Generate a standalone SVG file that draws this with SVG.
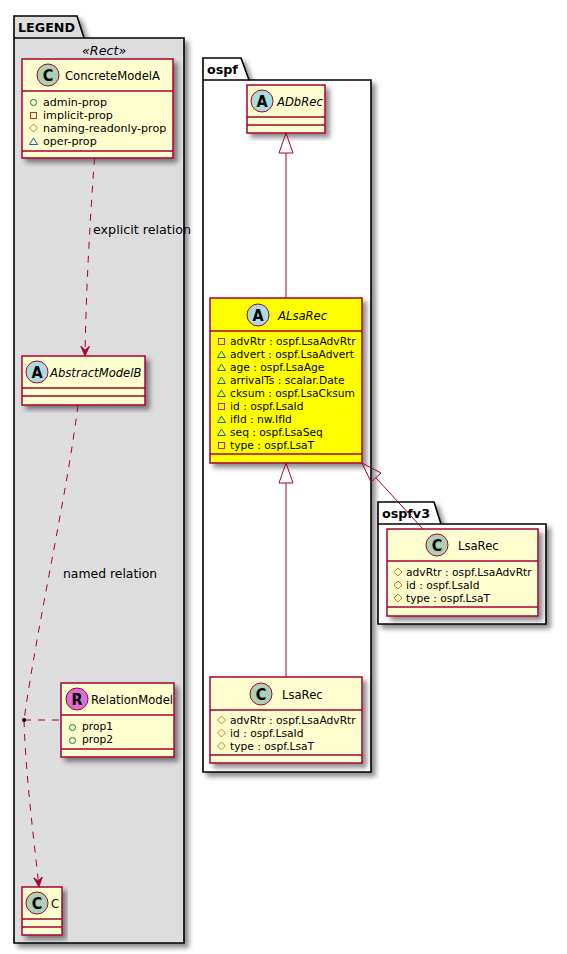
<svg xmlns="http://www.w3.org/2000/svg" width="567" height="954" viewBox="0 0 567 954">
<style>
text{font-family:"DejaVu Sans","Liberation Sans",sans-serif;fill:#000}
.pkg{stroke:#000;stroke-width:1.6;filter:url(#sh)}
.box{stroke:#A80036;stroke-width:1.5;filter:url(#sh)}
.cls{fill:#FEFECE}
.yel{fill:#FFFF00}
.div{stroke:#A80036;stroke-width:1.5;fill:none}
.tab{font-size:12.700px;font-weight:bold}
.name{font-size:11.600px}
.it{font-style:italic}
.m{font-size:10.700px}
.m2{font-size:11.100px}
.lbl{font-size:12.700px}
.lbl2{font-size:12.400px}
.sp{stroke:#A80036;stroke-width:1;}
.let{font-family:"DejaVu Sans Condensed","DejaVu Sans",sans-serif;font-size:16px;font-weight:bold;text-anchor:middle}
.pub{fill:none;stroke:#038048}
.pri{fill:none;stroke:#C82930}
.pro{fill:none;stroke:#B38D22}
.pkgv{fill:none;stroke:#1963A0}
.ln{fill:none;stroke:#A80036;stroke-width:1}
.dash{stroke-dasharray:7 7}
</style>
<defs>
<filter id="sh" x="-10%" y="-10%" width="125%" height="125%"><feDropShadow dx="4" dy="4" stdDeviation="2.500" flood-color="#000" flood-opacity="0.45"/></filter>
<marker id="open" markerUnits="userSpaceOnUse" markerWidth="12" markerHeight="12" refX="10" refY="5" orient="auto" viewBox="0 0 12 10"><path d="M0 0.500L10 5L0 9.500L4 5Z" fill="#A80036" stroke="#A80036" stroke-width="0.800"/></marker>
</defs>

<g id="pkg-legend"><path class="pkg" fill="#DDDDDD" d="M14 38V16H77L84 38H184V943H14Z"/><path d="M14 38H84" stroke="#000" stroke-width="1.500"/><text class="tab" x="18" y="32">LEGEND</text><text class="lbl it" x="82" y="54.500">«Rect»</text></g>
<g id="pkg-ospf"><path class="pkg" fill="#FFFFFF" d="M203 80V58H241L249 80H371V772H203Z"/><path d="M203 80H249" stroke="#000" stroke-width="1.500"/><text class="tab" x="207" y="74">ospf</text></g>

<g id="ConcreteModelA"><rect class="box cls" x="22" y="59" width="151" height="99"/><path class="div" d="M22 91H173M22 151H173"/><circle class="sp" cx="48" cy="75" r="11" fill="#ADD1B2"/><text class="let" x="48" y="81">C</text><text class="name" x="65" y="80">ConcreteModelA</text>
<circle class="pub" cx="33.500" cy="102.500" r="3"/><text class="m2" x="43" y="106">admin-prop</text>
<rect class="pri" x="30.500" y="112.500" width="6" height="6"/><text class="m2" x="43" y="119">implicit-prop</text>
<path class="pro" d="M33.500 124L37.500 128L33.500 132L29.500 128Z"/><text class="m2" x="43" y="132">naming-readonly-prop</text>
<path class="pkgv" d="M33.500 138L37.500 144.500H29.500Z"/><text class="m2" x="43" y="145">oper-prop</text></g>

<g id="AbstractModelB"><rect class="box cls" x="22" y="356" width="123" height="49"/><path class="div" d="M22 388H145M22 396H145"/><circle class="sp" cx="37" cy="372" r="11" fill="#A9DCDF"/><text class="let" x="37" y="378">A</text><text class="name it" x="50" y="377">AbstractModelB</text></g>

<g id="RelationModel"><rect class="box cls" x="61" y="683" width="113" height="74"/><path class="div" d="M61 715H174M61 749H174"/><circle class="sp" cx="77" cy="699" r="11" fill="#DA70D6"/><text class="let" x="77" y="705">R</text><text class="name" x="91" y="704">RelationModel</text>
<circle class="pub" cx="72.500" cy="727.500" r="3"/><text class="m" x="82" y="730">prop1</text>
<circle class="pub" cx="72.500" cy="740.500" r="3"/><text class="m" x="82" y="743">prop2</text></g>

<g id="C"><rect class="box cls" x="22" y="887" width="40" height="48"/><path class="div" d="M22 919H62M22 927H62"/><circle class="sp" cx="37" cy="903" r="11" fill="#ADD1B2"/><text class="let" x="37" y="909">C</text><text class="name" x="51" y="908">C</text></g>

<g id="ADbRec"><rect class="box cls" x="247" y="85" width="78" height="48"/><path class="div" d="M247 117H325M247 125H325"/><circle class="sp" cx="262" cy="101" r="11" fill="#A9DCDF"/><text class="let" x="262" y="107">A</text><text class="name it" x="277" y="106">ADbRec</text></g>

<g id="ALsaRec"><rect class="box yel" x="210" y="298" width="152" height="165"/><path class="div" d="M210 331H362M210 454H362"/><circle class="sp" cx="258" cy="315" r="11" fill="#A9DCDF"/><text class="let" x="258" y="321">A</text><text class="name it" x="278" y="320">ALsaRec</text>
<rect class="pri" x="218.500" y="338.500" width="6" height="6"/><text class="m" x="230" y="345">advRtr : ospf.LsaAdvRtr</text>
<path class="pkgv" d="M221.500 351L225.500 357.500H217.500Z"/><text class="m" x="230" y="358">advert : ospf.LsaAdvert</text>
<path class="pkgv" d="M221.500 364L225.500 370.500H217.500Z"/><text class="m" x="230" y="371">age : ospf.LsaAge</text>
<path class="pkgv" d="M221.500 377L225.500 383.500H217.500Z"/><text class="m" x="230" y="384">arrivalTs : scalar.Date</text>
<path class="pkgv" d="M221.500 390L225.500 396.500H217.500Z"/><text class="m" x="230" y="397">cksum : ospf.LsaCksum</text>
<rect class="pri" x="218.500" y="403.500" width="6" height="6"/><text class="m" x="230" y="410">id : ospf.LsaId</text>
<path class="pkgv" d="M221.500 416L225.500 422.500H217.500Z"/><text class="m" x="230" y="423">ifId : nw.IfId</text>
<path class="pkgv" d="M221.500 429L225.500 435.500H217.500Z"/><text class="m" x="230" y="436">seq : ospf.LsaSeq</text>
<rect class="pri" x="218.500" y="442.500" width="6" height="6"/><text class="m" x="230" y="449">type : ospf.LsaT</text></g>

<g id="LsaRec"><rect class="box cls" x="210" y="677" width="152" height="86"/><path class="div" d="M210 710H362M210 755H362"/><circle class="sp" cx="261" cy="694" r="11" fill="#ADD1B2"/><text class="let" x="261" y="700">C</text><text class="name" x="282" y="699">LsaRec</text>
<path class="pro" d="M221.500 716L225.500 720L221.500 724L217.500 720Z"/><text class="m" x="230" y="724">advRtr : ospf.LsaAdvRtr</text>
<path class="pro" d="M221.500 729L225.500 733L221.500 737L217.500 733Z"/><text class="m" x="230" y="737">id : ospf.LsaId</text>
<path class="pro" d="M221.500 742L225.500 746L221.500 750L217.500 746Z"/><text class="m" x="230" y="750">type : ospf.LsaT</text></g>

<g id="pkg-ospfv3"><path class="pkg" fill="#FFFFFF" d="M378 524V502H434L441 524H546V624H378Z"/><path d="M378 524H441" stroke="#000" stroke-width="1.500"/><text class="tab" x="382" y="518">ospfv3</text></g>

<g id="LsaRec-v3"><rect class="box cls" x="387" y="529" width="151" height="87"/><path class="div" d="M387 561H538M387 607H538"/><circle class="sp" cx="437" cy="545" r="11" fill="#ADD1B2"/><text class="let" x="437" y="551">C</text><text class="name" x="458" y="550">LsaRec</text>
<path class="pro" d="M398 568L402 572L398 576L394 572Z"/><text class="m" x="406" y="576">advRtr : ospf.LsaAdvRtr</text>
<path class="pro" d="M398 581L402 585L398 589L394 585Z"/><text class="m" x="406" y="589">id : ospf.LsaId</text>
<path class="pro" d="M398 594L402 598L398 602L394 598Z"/><text class="m" x="406" y="602">type : ospf.LsaT</text></g>

<g id="connectors">
<path class="ln dash" marker-end="url(#open)" d="M94.500 158C90 220 86 290 85 356"/>
<path class="ln dash" d="M78 405C66 500 38 620 24 720"/>
<path class="ln dash" marker-end="url(#open)" d="M24 720C26 780 34 840 39 887"/>
<path class="ln dash" d="M24 720H61"/>
<circle cx="24" cy="720" r="2" fill="#000"/>
<path class="ln" d="M286 153V298"/><path class="ln" d="M286 133L279 153H293Z"/>
<path class="ln" d="M286 483V677"/><path class="ln" d="M286 463L279 483H293Z"/>
<path class="ln" d="M376 478L423 529"/><path class="ln" d="M362 463L381 473L371 482Z"/>
<text class="lbl" x="93" y="234">explicit relation</text>
<text class="lbl2" x="63" y="578">named relation</text>
</g>
</svg>
